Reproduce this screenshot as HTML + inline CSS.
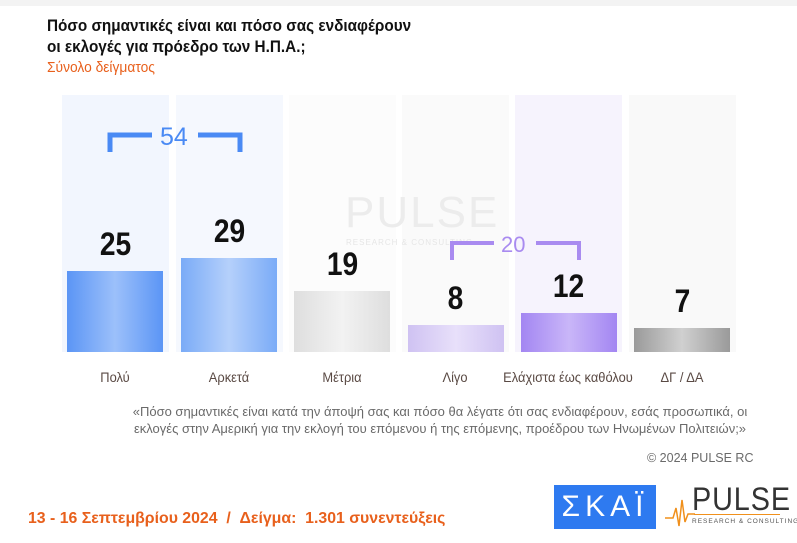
<!DOCTYPE html><html><head><meta charset="utf-8"><style>
body{margin:0;width:797px;height:543px;background:#fff;font-family:"Liberation Sans",sans-serif;position:relative;overflow:hidden}
.a{position:absolute}
.bg{position:absolute;top:95px;height:257px;width:107px}
.bar{position:absolute;width:96px}
.v{position:absolute;width:107px;text-align:center;font-weight:bold;font-size:32px;color:#111;transform:scaleX(0.88)}
.c{position:absolute;width:150px;text-align:center;font-size:14px;color:#5a4a44;top:369px;white-space:nowrap;transform:scaleX(0.92)}
</style></head><body>
<div class="a" style="left:0;top:0;width:797px;height:6px;background:#f3f3f3"></div>
<div class="a" style="left:47px;top:15px;font-weight:bold;font-size:17px;line-height:21px;color:#111;white-space:nowrap;transform:scaleX(0.9);transform-origin:0 0">Πόσο σημαντικές είναι και πόσο σας ενδιαφέρουν<br>οι εκλογές για πρόεδρο των Η.Π.Α.;</div>
<div class="a" style="left:47px;top:59px;font-size:15px;color:#e8601c;transform:scaleX(0.92);transform-origin:0 0">Σύνολο δείγματος</div>

<div class="bg" style="left:62px;background:#f2f6fe"></div>
<div class="bg" style="left:176px;background:#f5f8fe"></div>
<div class="bg" style="left:289px;background:#fcfcfc"></div>
<div class="bg" style="left:402px;background:#fafafa"></div>
<div class="bg" style="left:515px;background:#f6f3fd"></div>
<div class="bg" style="left:629px;background:#f9f9f9"></div>

<div class="a" style="left:345px;top:188px;font-size:44px;color:#ececec;letter-spacing:2px">PULSE</div>
<div class="a" style="left:346px;top:238px;font-size:8px;color:#e6e6e6;letter-spacing:1px">RESEARCH &amp; CONSULTING</div>

<div class="bar" style="left:67px;top:271px;height:81px;background:linear-gradient(90deg,#5b95f5,#9cc0fa 50%,#5b95f5)"></div>
<div class="bar" style="left:181px;top:258px;height:94px;background:linear-gradient(90deg,#7aabf7,#b5d0fb 50%,#7aabf7)"></div>
<div class="bar" style="left:294px;top:291px;height:61px;background:linear-gradient(90deg,#dedede,#f2f2f2 50%,#dedede)"></div>
<div class="bar" style="left:408px;top:325px;height:27px;background:linear-gradient(90deg,#cfc2f2,#e8e0fa 50%,#cfc2f2)"></div>
<div class="bar" style="left:521px;top:313px;height:39px;background:linear-gradient(90deg,#a386f2,#c9b6f8 50%,#a386f2)"></div>
<div class="bar" style="left:634px;top:328px;height:24px;background:linear-gradient(90deg,#9a9a9a,#d0d0d0 50%,#9a9a9a)"></div>

<div class="v" style="left:62px;top:226px">25</div>
<div class="v" style="left:176px;top:213px">29</div>
<div class="v" style="left:289px;top:246px">19</div>
<div class="v" style="left:402px;top:280px">8</div>
<div class="v" style="left:515px;top:268px">12</div>
<div class="v" style="left:629px;top:283px">7</div>

<svg class="a" style="left:0;top:0" width="797" height="543">
<g fill="none" stroke="#4a8af4" stroke-width="5"><path d="M110,152V135H152M198,135H240V152"/></g>
<g fill="none" stroke="#a98bf0" stroke-width="4"><path d="M452,260V243H494M536,243H579V260"/></g>
</svg>
<div class="a" style="left:160px;top:123px;font-size:25px;color:#4a8af4">54</div>
<div class="a" style="left:501px;top:232px;font-size:22px;color:#a98bf0">20</div>

<div class="c" style="left:40px">Πολύ</div>
<div class="c" style="left:154px">Αρκετά</div>
<div class="c" style="left:267px">Μέτρια</div>
<div class="c" style="left:380px">Λίγο</div>
<div class="c" style="left:493px">Ελάχιστα έως καθόλου</div>
<div class="c" style="left:607px">ΔΓ / ΔΑ</div>

<div class="a" style="left:100px;top:403px;width:680px;text-align:center;font-size:13px;line-height:17px;color:#6a6a6a;white-space:nowrap">«Πόσο σημαντικές είναι κατά την άποψή σας και πόσο θα λέγατε ότι σας ενδιαφέρουν, εσάς προσωπικά, οι<br>εκλογές στην Αμερική για την εκλογή του επόμενου ή της επόμενης, προέδρου των Ηνωμένων Πολιτειών;»</div>
<div class="a" style="left:647px;top:451px;font-size:12.5px;color:#6a6a6a">© 2024 PULSE RC</div>

<div class="a" style="left:28px;top:510px;font-weight:bold;font-size:16px;color:#e8601c;white-space:nowrap;transform:scaleX(0.99);transform-origin:0 0">13 - 16 Σεπτεμβρίου 2024 &nbsp;/ &nbsp;Δείγμα: &nbsp;1.301 συνεντεύξεις</div>
<div class="a" style="left:554px;top:485px;width:102px;height:44px;background:#2e7af0;color:#fff;font-size:30px;line-height:44px;text-align:center;letter-spacing:5px">ΣΚΑΪ</div>
<div class="a" style="left:692px;top:484px;font-size:32px;color:#333;line-height:30px;transform:scaleX(0.9);transform-origin:0 0;letter-spacing:1px">PULSE</div>
<div class="a" style="left:692px;top:518px;font-size:6.5px;color:#555;letter-spacing:1px;white-space:nowrap">RESEARCH &amp; CONSULTING</div>
<svg class="a" style="left:665px;top:490px" width="30" height="40"><path d="M0,28H8L11,18L14,36L17,10L20,32L23,24H30" fill="none" stroke="#f0901c" stroke-width="1.5"/></svg>
<div class="a" style="left:694px;top:514px;width:86px;height:1px;background:#f0901c"></div>
</body></html>
